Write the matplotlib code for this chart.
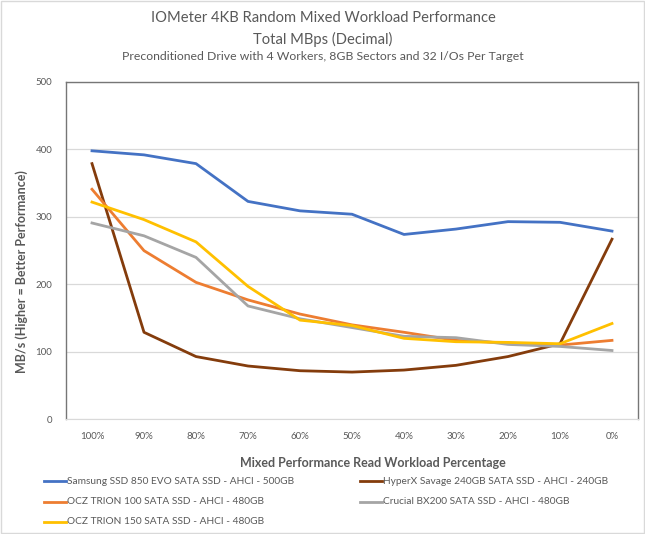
import matplotlib
matplotlib.use("Agg")
import matplotlib.pyplot as plt
from matplotlib.patches import Rectangle

plt.rcParams["font.family"] = ["Lato", "DejaVu Sans"]

# Data
read_pct = ["100%", "90%", "80%", "70%", "60%", "50%", "40%", "30%", "20%", "10%", "0%"]
samsung_850_evo = [398, 392, 379, 323, 309, 304, 274, 282, 293, 292, 279]
hyperx_savage = [379, 129, 93, 79, 72, 70, 73, 80, 93, 112, 267]
ocz_trion_100 = [341, 250, 203, 177, 156, 140, 129, 117, 113, 110, 117]
crucial_bx200 = [291, 272, 240, 168, 149, 136, 123, 121, 111, 108, 102]
ocz_trion_150 = [322, 296, 263, 197, 147, 139, 120, 115, 114, 112, 142]

series = [
    ("Samsung SSD 850 EVO SATA SSD - AHCI - 500GB", samsung_850_evo, "#4472C4"),
    ("HyperX Savage 240GB SATA SSD - AHCI - 240GB", hyperx_savage, "#843C0C"),
    ("OCZ TRION 100 SATA SSD - AHCI - 480GB", ocz_trion_100, "#ED7D31"),
    ("Crucial BX200 SATA SSD - AHCI - 480GB", crucial_bx200, "#A5A5A5"),
    ("OCZ TRION 150 SATA SSD - AHCI - 480GB", ocz_trion_150, "#FFC000"),
]

TEXT = "#595959"
W_PX, H_PX = 645, 534

fig = plt.figure(figsize=(W_PX / 100, H_PX / 100), dpi=100)
fig.patch.set_facecolor("white")
ax = fig.add_axes([66 / W_PX, 1 - 419.3 / H_PX, (638 - 66) / W_PX, (419.3 - 82) / H_PX])

x = list(range(len(read_pct)))
handles = []
for label, vals, color in series:
    (ln,) = ax.plot(x, vals, color=color, lw=2.0, label=label, solid_joinstyle="round")
    handles.append(ln)

ax.set_xlim(-0.5, len(read_pct) - 0.5)
ax.set_ylim(0, 500)
ax.set_yticks(range(0, 501, 100))
ax.set_xticks(x)
ax.set_xticklabels(read_pct)
ax.tick_params(axis="both", length=0, labelsize=7, labelcolor=TEXT)
ax.tick_params(axis="x", pad=9)
ax.tick_params(axis="y", pad=10)
ax.grid(axis="y", color="#D9D9D9", lw=0.9)
ax.set_axisbelow(True)
for side in ["left", "top", "right"]:
    ax.spines[side].set_color("#767676")
    ax.spines[side].set_linewidth(1.0)
ax.spines["bottom"].set_color("#D9D9D9")

# Titles
fig.text(323 / W_PX, 1 - 18 / H_PX, "IOMeter 4KB Random Mixed Workload Performance",
         ha="center", va="center", fontsize=10.6, color=TEXT)
fig.text(323 / W_PX, 1 - 39 / H_PX, "Total MBps (Decimal)",
         ha="center", va="center", fontsize=10.6, color=TEXT)
fig.text(323 / W_PX, 1 - 57 / H_PX, "Preconditioned Drive with 4 Workers, 8GB Sectors and 32 I/Os Per Target",
         ha="center", va="center", fontsize=8.8, color=TEXT)

fig.text(22 / W_PX, 1 - 272 / H_PX, "MB/s (Higher = Better Performance)", rotation=90,
         ha="center", va="center", fontsize=9, fontweight="bold", color=TEXT)
fig.text(373 / W_PX, 1 - 463 / H_PX, "Mixed Performance Read Workload Percentage",
         ha="center", va="center", fontsize=9.0, fontweight="bold", color=TEXT)

# Legend, two columns in rows
leg_pos = [(44, 481), (360, 481), (44, 502), (360, 502), (44, 522)]
for (px, py), ln in zip(leg_pos, handles):
    fig.lines.append(plt.Line2D([px / W_PX, (px + 22) / W_PX], [1 - py / H_PX] * 2,
                                color=ln.get_color(), lw=2.0, transform=fig.transFigure))
    fig.text((px + 23) / W_PX, 1 - py / H_PX, ln.get_label(), ha="left", va="center",
             fontsize=7.3, color=TEXT)

# Outer chart border
fig.patches.append(Rectangle((1 / W_PX, 1 / H_PX), 1 - 2 / W_PX, 1 - 2 / H_PX, transform=fig.transFigure,
                             fill=False, edgecolor="#D9D9D9", lw=1.0))

fig.savefig("out.png", dpi=100, facecolor="white")
